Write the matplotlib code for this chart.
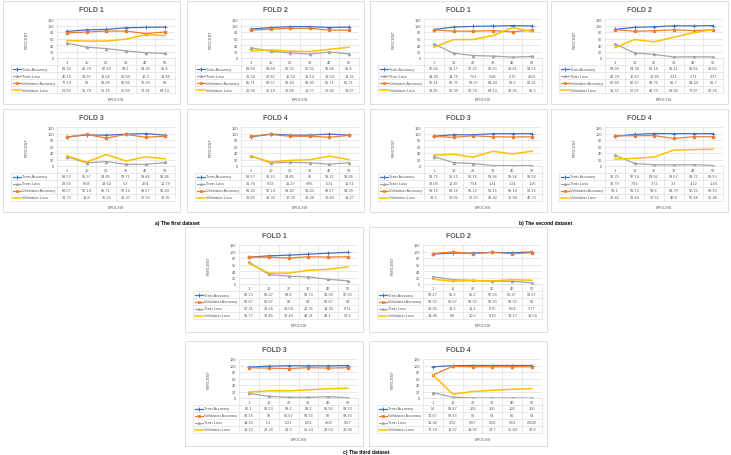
import numpy as np
import matplotlib.pyplot as plt
from matplotlib.patches import Rectangle
from matplotlib.lines import Line2D
from matplotlib.transforms import blended_transform_factory

plt.rcParams['font.family'] = ['Liberation Sans', 'DejaVu Sans']

# --- Dados ---
W, H = 731, 456
EPOCHS = ['1', '10', '20', '30', '40', '50']
FOLDS = ['FOLD 1', 'FOLD 2', 'FOLD 3', 'FOLD 4']

# a) primeiro dataset (fold 1..4)
A_TRAIN_ACC = [[81.61, 86.79, 87.93, 93.1, 94.25, 95.4],
               [89.08, 93.68, 96.55, 96.55, 93.68, 95.4],
               [89.57, 95.57, 94.85, 97.71, 99.86, 94.86],
               [89.57, 98.23, 94.85, 95, 98.23, 94.86]]
A_TRAIN_LOSS = [[46.19, 33.37, 29.04, 22.08, 16.2, 13.86],
                [31.34, 20.82, 15.53, 12.14, 18.54, 12.35],
                [28.59, 9.58, 13.62, 5.3, 4.91, 10.79],
                [31.79, 9.33, 11.27, 9.85, 5.31, 10.51]]
A_VAL_ACC = [[77.14, 80, 82.86, 82.86, 75.29, 80],
             [85.71, 88.57, 91.43, 91.43, 85.71, 85.71],
             [88.57, 97.14, 85.71, 97.14, 88.57, 91.43],
             [91.43, 97.14, 91.43, 91.43, 88.57, 94.29]]
A_VAL_LOSS = [[53.86, 51.79, 52.16, 57.83, 71.81, 69.13],
              [21.86, 25.16, 20.86, 19.77, 26.82, 33.07],
              [31.73, 11.8, 35.23, 15.37, 27.93, 22.35],
              [29.83, 12.33, 17.33, 19.28, 30.49, 19.27]]

# b) segundo dataset
B_TRAIN_ACC = [[87.69, 95.17, 97.29, 98.33, 99.61, 98.52],
               [88.08, 94.38, 96.16, 99.11, 98.82, 99.62],
               [91.72, 96.15, 96.15, 99.38, 99.38, 99.58],
               [91.25, 97.14, 99.92, 99.57, 99.72, 99.53]]
B_TRAIN_LOSS = [[43.29, 14.75, 7.61, 5.88, 2.75, 4.63],
                [43.79, 15.67, 10.86, 3.21, 3.71, 3.37],
                [29.04, 10.47, 7.54, 1.31, 1.31, 1.25],
                [33.78, 7.93, 3.72, 3.3, 4.12, 1.46]]
B_VAL_ACC = [[86.21, 82.76, 82.27, 84.24, 80.3, 86.21],
             [87.68, 82.27, 83.76, 86.7, 84.24, 86.7],
             [91.15, 88.18, 93.12, 90.15, 89.18, 90.15],
             [93.1, 93.13, 93.6, 84.73, 90.15, 90.15]]
B_VAL_LOSS = [[33.05, 56.39, 56.76, 69.13, 93.39, 81.2],
              [31.57, 57.07, 49.73, 63.82, 77.87, 87.34],
              [33.3, 36.05, 27.23, 45.42, 36.94, 45.73],
              [21.62, 23.49, 27.52, 48.9, 50.48, 51.46]]

# c) terceiro dataset
C_TRAIN_ACC = [[82.13, 86.67, 88.8, 91.73, 94.93, 97.33],
               [92.27, 95.2, 95.2, 97.33, 96.27, 98.67],
               [95.1, 98.13, 99.2, 99.2, 98.93, 99.73],
               [96, 99.47, 100, 100, 100, 100]]
C_VAL_ACC = [[82.67, 82.67, 80, 84, 82.67, 84],
             [93.33, 98.67, 93.33, 97.33, 93.33, 96],
             [93.33, 92, 90.67, 93.33, 92, 93.33],
             [70.67, 97.33, 96, 96, 96, 96]]
C_TRAIN_LOSS = [[67.31, 29.24, 24.04, 21.95, 14.43, 9.76],
                [22.39, 13.5, 11.1, 8.75, 8.04, 3.77],
                [14.15, 5.1, 2.21, 2.01, 4.08, 0.67],
                [16.92, 2.52, 0.07, 0.02, 0.01, 0.006]]
C_VAL_LOSS = [[63.77, 33.45, 33.46, 42.31, 45.1, 53.3],
              [14.46, 8.8, 10.5, 9.19, 13.17, 11.54],
              [18.15, 22.18, 21.9, 25.14, 28.54, 30.04],
              [71.18, 12.07, 19.92, 23.7, 26.84, 28.8]]

ESTILO = {
    'Train Accuracy': dict(color='#4472C4', marker='+', ms=2.2, mew=0.7, lw=0.9),
    'Train Loss': dict(color='#A5A5A5', marker='^', ms=1.6, lw=0.9),
    'Validation Accuracy': dict(color='#ED7D31', marker='s', ms=2.0, lw=0.9),
    'Validation Loss': dict(color='#FFC000', marker=None, lw=1.1),
}
GRADE = '#D9D9D9'
TEXTO = '#595959'
FS = 2.8


def fy(y):
    return 1 - y / H


def desenhar_fold(fig, x0, y0, w, h, titulo, linhas):
    # Moldura do gráfico
    fig.add_artist(Rectangle((x0 / W, fy(y0 + h)), w / W, h / H, transform=fig.transFigure,
                             fill=False, ec=GRADE, lw=0.6))
    fig.text((x0 + w / 2) / W, fy(y0 + 9), titulo, ha='center', va='center',
             fontsize=5, fontweight='bold', color=TEXTO)

    esq, dir_, topo, base = x0 + 54, x0 + w - 5, y0 + 18, y0 + 57
    ax = fig.add_axes([esq / W, fy(base), (dir_ - esq) / W, (base - topo) / H])
    xs = np.arange(len(EPOCHS))
    for nome, vals in linhas:
        ax.plot(xs, vals, **ESTILO[nome])
    ax.set_xlim(-0.5, len(EPOCHS) - 0.5)
    ax.set_ylim(0, 120)
    ax.set_yticks(range(0, 121, 20))
    ax.set_xticks(np.arange(-0.5, len(EPOCHS)))
    ax.set_xticklabels([])
    ax.grid(True, color=GRADE, lw=0.4)
    ax.set_axisbelow(True)
    ax.tick_params(length=0, labelsize=FS, labelcolor=TEXTO, pad=2)
    for s in ['top', 'right', 'left']:
        ax.spines[s].set_visible(False)
    ax.spines['bottom'].set_color(GRADE)
    ax.spines['bottom'].set_linewidth(0.5)
    fig.text((x0 + 24) / W, fy((topo + base) / 2), 'PERCENT', rotation=90,
             ha='center', va='center', fontsize=FS, color=TEXTO)

    # Tabela de dados abaixo do gráfico
    tr = blended_transform_factory(ax.transData, fig.transFigure)
    tr_fig = fig.transFigure
    for i, e in enumerate(EPOCHS):
        fig.text(i, fy(base + 4), e, transform=tr, ha='center', va='center',
                 fontsize=FS, color=TEXTO)
    n = len(linhas)
    fim = base + 7 + 7 * n
    for b in np.arange(-0.5, len(EPOCHS)):
        fig.add_artist(Line2D([b, b], [fy(base), fy(fim)], transform=tr, color=GRADE, lw=0.4))
    fig.add_artist(Line2D([(x0 + 8) / W] * 2, [fy(base + 7), fy(fim)], transform=tr_fig,
                          color=GRADE, lw=0.4))
    for k in range(n + 1):
        yy = fy(base + 7 + 7 * k)
        fig.add_artist(Line2D([(x0 + 8) / W, dir_ / W], [yy, yy], transform=tr_fig,
                              color=GRADE, lw=0.4))
    for k, (nome, vals) in enumerate(linhas):
        yc = fy(base + 10.5 + 7 * k)
        st = ESTILO[nome]
        xk = [(x0 + 10) / W, (x0 + 14) / W, (x0 + 18) / W]
        fig.add_artist(Line2D(xk, [yc] * 3, transform=tr_fig,
                              color=st['color'], lw=st['lw'], marker=st['marker'],
                              ms=st.get('ms', 0), markevery=[1],
                              mew=st.get('mew', 0.5)))
        fig.text((x0 + 19) / W, yc, nome, ha='left', va='center', fontsize=FS, color=TEXTO)
        for i, v in enumerate(vals):
            fig.text(i, yc, f'{v:g}', transform=tr, ha='center', va='center',
                     fontsize=FS, color=TEXTO)
    fig.text((esq + dir_) / 2 / W, fy(fim + 6), 'EPOCHS', ha='center', va='center',
             fontsize=FS, color=TEXTO)


fig = plt.figure(figsize=(W / 100, H / 100), dpi=100)
fig.patch.set_facecolor('white')

# posições das molduras (pixels)
POS_A = [(3, 2), (187, 2), (3, 110), (187, 110)]
POS_B = [(370, 2), (551, 2), (370, 110), (551, 110)]
POS_C = [(185, 228), (369, 228), (185, 342), (369, 342)]

for f in range(4):
    linhas = [('Train Accuracy', A_TRAIN_ACC[f]), ('Train Loss', A_TRAIN_LOSS[f]),
              ('Validation Accuracy', A_VAL_ACC[f]), ('Validation Loss', A_VAL_LOSS[f])]
    desenhar_fold(fig, POS_A[f][0], POS_A[f][1], 177, 103, FOLDS[f], linhas)
    linhas = [('Train Accuracy', B_TRAIN_ACC[f]), ('Train Loss', B_TRAIN_LOSS[f]),
              ('Validation Accuracy', B_VAL_ACC[f]), ('Validation Loss', B_VAL_LOSS[f])]
    desenhar_fold(fig, POS_B[f][0], POS_B[f][1], 177, 103, FOLDS[f], linhas)
    linhas = [('Train Accuracy', C_TRAIN_ACC[f]), ('Validation Accuracy', C_VAL_ACC[f]),
              ('Train Loss', C_TRAIN_LOSS[f]), ('Validation Loss', C_VAL_LOSS[f])]
    desenhar_fold(fig, POS_C[f][0], POS_C[f][1], 178, 105, FOLDS[f], linhas)

fig.text(177 / W, fy(224), 'a) The first dataset', ha='center', va='center',
         fontsize=3.6, fontweight='bold')
fig.text(546 / W, fy(224), 'b) The second dataset', ha='center', va='center',
         fontsize=3.6, fontweight='bold')
fig.text(366 / W, fy(453), 'c) The third dataset', ha='center', va='center',
         fontsize=3.6, fontweight='bold')

fig.savefig('out.png', dpi=100)
